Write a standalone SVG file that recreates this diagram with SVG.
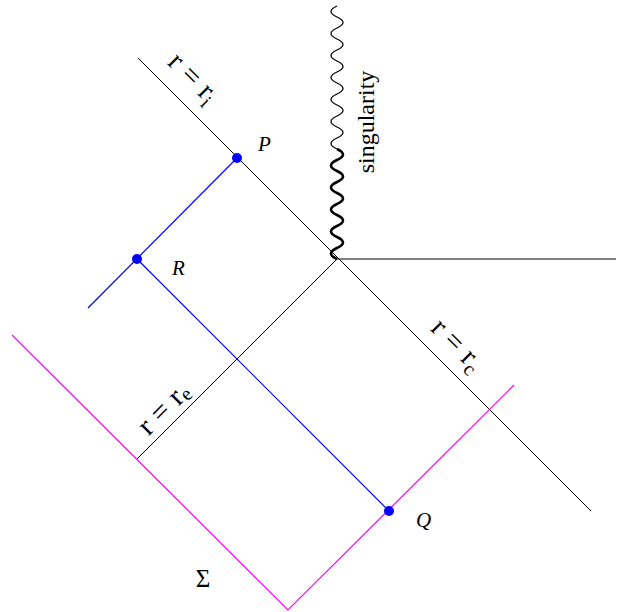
<svg xmlns="http://www.w3.org/2000/svg" width="618" height="612" viewBox="0 0 618 612">
<style>
.k{stroke:#000;stroke-width:1;fill:none}
.b{stroke:#0000ff;stroke-width:1.2;fill:none}
.m{stroke:#ff00ff;stroke-width:1.2;fill:none}
.t{font-family:"Liberation Serif","Times New Roman",serif;font-size:29px;fill:#000}
.s{font-size:20px}
.lab{font-family:"Liberation Serif","Times New Roman",serif;font-style:italic;font-size:21px;fill:#000}
.dot{fill:#0000ff}
</style>
<rect width="618" height="612" fill="#fff"/>
<g id="connectors">
<line class="k" x1="138" y1="58" x2="591" y2="511"/>
<line class="k" x1="337" y1="259" x2="616" y2="259"/>
<line class="k" x1="337" y1="259" x2="137" y2="459"/>
<polyline class="m" points="12,335 288,610 514,385"/>
<polyline class="b" points="88,308 237,158"/>
<line class="b" x1="137" y1="259" x2="389" y2="511"/>
<path id="singularity-thick" class="k" style="stroke-width:2.6" d="M337,259 q -12 -5.5 0 -11 t 0 -11 t 0 -11 t 0 -11 t 0 -11 t 0 -11 t 0 -11 t 0 -11 t 0 -11 t 0 -11"/>
<path id="singularity-thin" class="k" style="stroke-width:1.3" d="M337,149 q -12 -5.5 0 -11 t 0 -11 t 0 -11 t 0 -11 t 0 -11 t 0 -11 t 0 -11 t 0 -11 t 0 -11 t 0 -11 t 0 -11 t 0 -11 t 0 -11"/>
</g>
<g id="labels">
<text class="t" text-anchor="middle" transform="translate(187,84) rotate(45)" word-spacing="1">r = r<tspan class="s" dy="6">i</tspan></text>
<text class="t" text-anchor="middle" transform="translate(451,351) rotate(45)" word-spacing="1">r = r<tspan class="s" dy="6">c</tspan></text>
<text class="t" text-anchor="middle" transform="translate(170,415) rotate(-45)" word-spacing="1">r = r<tspan class="s" dy="3">e</tspan></text>
<text class="t" text-anchor="middle" style="font-size:24px" transform="translate(374,122) rotate(-90)">singularity</text>
<text class="t" text-anchor="middle" style="font-size:25px" x="203" y="587">Σ</text>
</g>
<g id="node-P"><circle class="dot" cx="237" cy="158" r="5"/><text class="lab" x="258" y="151">P</text></g>
<g id="node-R"><circle class="dot" cx="137" cy="259" r="5"/><text class="lab" x="172" y="275">R</text></g>
<g id="node-Q"><circle class="dot" cx="389" cy="511" r="5"/><text class="lab" x="416" y="527">Q</text></g>
</svg>
